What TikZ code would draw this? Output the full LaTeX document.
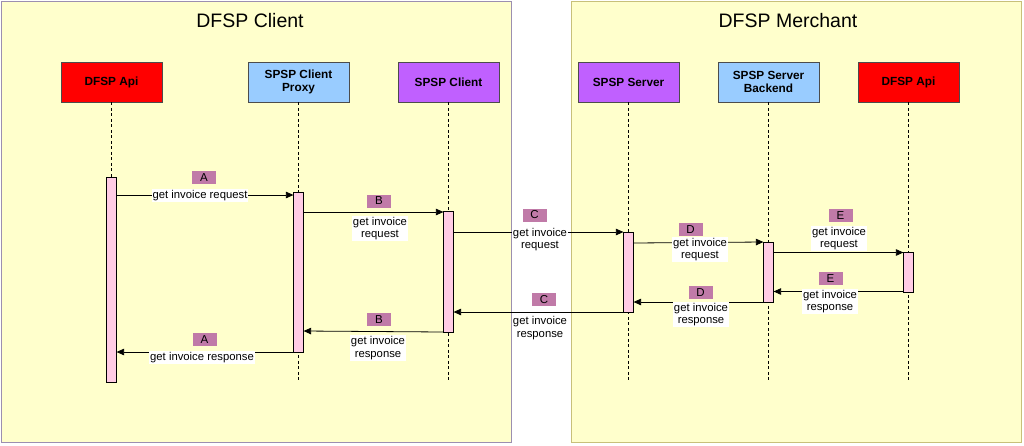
\documentclass[tikz,border=0pt]{standalone}
\usepackage{fontspec}
\setmainfont{Liberation Sans}
\usetikzlibrary{arrows.meta}
\definecolor{panel}{HTML}{FFFFCC}
\definecolor{leftedge}{HTML}{9C8FB0}
\definecolor{rightedge}{HTML}{C8C07A}
\definecolor{apired}{HTML}{FF0000}
\definecolor{proxyblue}{HTML}{99CCFF}
\definecolor{spspviolet}{HTML}{C060FF}
\definecolor{barpink}{HTML}{FFCCE4}
\definecolor{tagmauve}{HTML}{C07AA8}
\tikzset{
  container/.style={rectangle, fill=panel, line width=0.8pt, anchor=north west, inner sep=0pt},
  ptitle/.style={font=\fontsize{19.5}{22}\selectfont},
  head/.style={rectangle, draw=black!70, line width=0.6pt, minimum width=101pt, minimum height=40pt, align=center, inner sep=1pt, font=\fontsize{11.8}{13}\selectfont\bfseries},
  life/.style={dashed, dash pattern=on 3pt off 2.5pt, line width=0.7pt},
  actbar/.style={rectangle, draw=black, line width=0.7pt, fill=barpink, minimum width=9.5pt, anchor=north, inner sep=0pt},
  msg/.style={line width=0.8pt, -{Triangle[length=7.5pt,width=6.5pt]}},
  tagbox/.style={rectangle, fill=tagmauve, minimum width=24pt, minimum height=13pt, inner sep=0pt, font=\fontsize{11.5}{13}\selectfont},
  lbl/.style={fill=white, inner sep=1pt, align=center, font=\fontsize{11.3}{12.8}\selectfont},
}
\begin{document}
\begin{tikzpicture}[x=1pt,y=-1pt]
\useasboundingbox (0,0) rectangle (1024,445);
\fill[white] (0,0) rectangle (1024,445);
% containers
\node[container, draw=leftedge, minimum width=510pt, minimum height=441pt] (client) at (1,1) {};
\node[container, draw=rightedge, minimum width=450pt, minimum height=441pt] (merchant) at (571,1) {};
\node[ptitle] (tclient) at (250,21) {DFSP Client};
\node[ptitle] (tmerchant) at (788,21) {DFSP Merchant};
% heads
\node[head, fill=apired] (capi) at (111.5,82) {DFSP Api};
\node[head, fill=proxyblue] (proxy) at (298.5,82) {SPSP Client\\Proxy};
\node[head, fill=spspviolet] (sclient) at (448.5,82) {SPSP Client};
\node[head, fill=spspviolet] (sserver) at (628.5,82) {SPSP Server};
\node[head, fill=proxyblue] (backend) at (768.5,82) {SPSP Server\\Backend};
\node[head, fill=apired] (mapi) at (908.5,82) {DFSP Api};
% lifeline ends
\coordinate (capiend) at (111.5,382);
\coordinate (proxyend) at (298.5,382);
\coordinate (sclientend) at (448.5,382);
\coordinate (sserverend) at (628.5,382);
\coordinate (backendend) at (768.5,382);
\coordinate (mapiend) at (908.5,382);
\draw[life] (capi.south) -- (capiend);
\draw[life] (proxy.south) -- (proxyend);
\draw[life] (sclient.south) -- (sclientend);
\draw[life] (sserver.south) -- (sserverend);
\draw[life] (backend.south) -- (backendend);
\draw[life] (mapi.south) -- (mapiend);
% activation bars
\node[actbar, minimum height=205pt] (acapi) at (111.5,177) {};
\node[actbar, minimum height=160pt] (aproxy) at (298.5,192) {};
\node[actbar, minimum height=121pt] (asclient) at (448.5,211) {};
\node[actbar, minimum height=80pt] (asserver) at (628.5,232) {};
\node[actbar, minimum height=60pt] (abackend) at (768.5,242) {};
\node[actbar, minimum height=40pt] (amapi) at (908.5,252) {};
% requests
\draw[msg] (acapi.east |- 0,195) -- (aproxy.west |- 0,195);
\draw[msg] (aproxy.east |- 0,212) -- (asclient.west |- 0,212);
\draw[msg] (asclient.east |- 0,232) -- (asserver.west |- 0,232);
\draw[msg] (asserver.east |- 0,243) -- (abackend.west |- 0,242);
\draw[msg] (abackend.east |- 0,252.5) -- (amapi.west |- 0,252.5);
% responses
\draw[msg] (amapi.west |- 0,291.5) -- (abackend.east |- 0,291.5);
\draw[msg] (abackend.west |- 0,302) -- (asserver.east |- 0,302);
\draw[msg] (asserver.west |- 0,312) -- (asclient.east |- 0,312);
\draw[msg] (asclient.west |- 0,332) -- (aproxy.east |- 0,331);
\draw[msg] (aproxy.west |- 0,352) -- (acapi.east |- 0,352);
% labels: requests
\node[tagbox] (tagA1) at (204,177.5) {A};
\node[lbl] (lA1) at (200,195.5) {get invoice request};
\node[tagbox] (tagB1) at (379,201) {B};
\node[lbl] (lB1) at (380,228.5) {get invoice\\request};
\node[tagbox] (tagC1) at (534.5,215) {C};
\node[lbl] (lC1) at (540,239.5) {get invoice\\request};
\node[tagbox] (tagD1) at (690.5,229.5) {D};
\node[lbl] (lD1) at (700,249.5) {get invoice\\request};
\node[tagbox] (tagE1) at (840.5,215.5) {E};
\node[lbl] (lE1) at (839,238.5) {get invoice\\request};
% labels: responses
\node[tagbox] (tagE2) at (830.5,278.5) {E};
\node[lbl] (lE2) at (830,301.5) {get invoice\\response};
\node[tagbox] (tagD2) at (700.5,292.5) {D};
\node[lbl] (lD2) at (701,314.5) {get invoice\\response};
\node[tagbox] (tagC2) at (544,299.5) {C};
\node[lbl] (lC2) at (540,328) {get invoice\\response};
\node[tagbox] (tagB2) at (379,319.5) {B};
\node[lbl] (lB2) at (378,348) {get invoice\\response};
\node[tagbox] (tagA2) at (204.5,339.5) {A};
\node[lbl] (lA2) at (202,357.5) {get invoice response};
\end{tikzpicture}
\end{document}
